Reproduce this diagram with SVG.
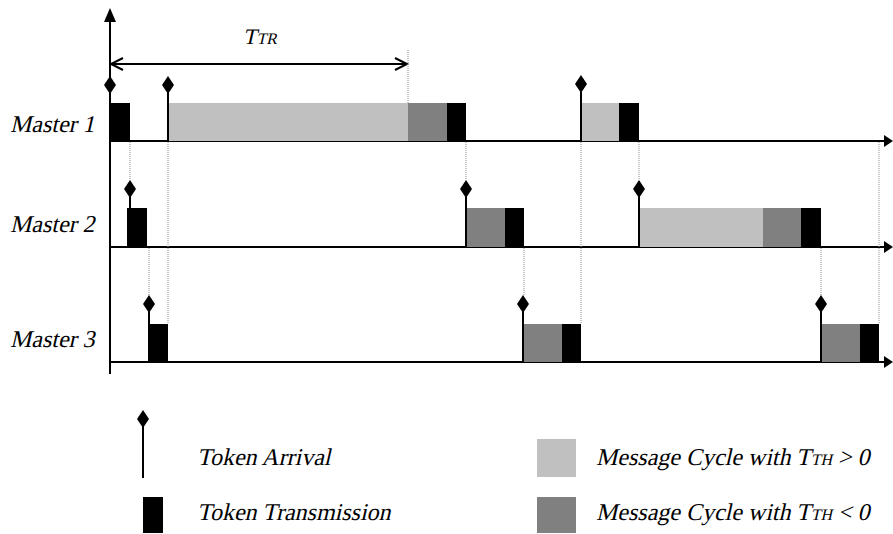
<svg xmlns="http://www.w3.org/2000/svg" xmlns:xlink="http://www.w3.org/1999/xlink" width="893" height="534" viewBox="0 0 893 534">
<style>
.lbl{font-family:'Liberation Serif','Times New Roman',serif;font-style:normal;font-size:24px;fill:#000}
.sub{font-size:16px}
.ax{stroke:#000;stroke-width:2;fill:none}
.stem{stroke:#000;stroke-width:2}
.dot{stroke:#8c8c8c;stroke-width:1;stroke-dasharray:1 1;fill:none}
.tok{fill:#000}
.lt{fill:#c0c0c0}
.dk{fill:#808080}
</style>
<defs>
<path id="dia" d="M0,-9 L6,0 L0,9 L-6,0 Z" fill="#000"/>
</defs>
<rect width="893" height="534" fill="#fff"/>

<g id="axes">
<line class="ax" x1="110" y1="20" x2="110" y2="374"/>
<polygon points="110,8 104,22 116,22" fill="#000"/>
<line class="ax" x1="110" y1="141" x2="886" y2="141"/>
<polygon points="884,135 893,141 884,147" fill="#000"/>
<line class="ax" x1="110" y1="247" x2="886" y2="247"/>
<polygon points="884,241 893,247 884,253" fill="#000"/>
<line class="ax" x1="110" y1="362" x2="886" y2="362"/>
<polygon points="884,356 893,362 884,368" fill="#000"/>
</g>

<g id="ttr">
<line class="ax" x1="111" y1="64" x2="407" y2="64"/>
<polyline class="ax" points="123,58 111,64 123,70"/>
<polyline class="ax" points="395,58 407,64 395,70"/>
<text class="lbl" transform="translate(243,44) skewX(-13)" x="0" y="0" style="font-size:22px">T<tspan style="font-size:16px">TR</tspan></text>
</g>

<g id="connectors">
<line class="dot" x1="408" y1="50" x2="408" y2="103"/>
<line class="dot" x1="130" y1="142" x2="130" y2="180"/>
<line class="dot" x1="149" y1="248" x2="149" y2="295"/>
<line class="dot" x1="168" y1="142" x2="168" y2="324"/>
<line class="dot" x1="466" y1="142" x2="466" y2="180"/>
<line class="dot" x1="524" y1="248" x2="524" y2="295"/>
<line class="dot" x1="581" y1="142" x2="581" y2="324"/>
<line class="dot" x1="639" y1="142" x2="639" y2="180"/>
<line class="dot" x1="821" y1="248" x2="821" y2="295"/>
<line class="dot" x1="879" y1="142" x2="879" y2="324"/>
</g>

<g id="master1">
<text class="lbl" transform="translate(10,132) skewX(-13)" x="0" y="0">Master 1</text>
<rect class="tok" x="110" y="103" width="20" height="38"/>
<rect class="lt" x="168" y="103" width="240" height="38"/>
<rect class="dk" x="408" y="103" width="39" height="38"/>
<rect class="tok" x="447" y="103" width="19" height="38"/>
<rect class="lt" x="581" y="103" width="38" height="38"/>
<rect class="tok" x="619" y="103" width="20" height="38"/>
<line class="stem" x1="168" y1="92" x2="168" y2="141"/>
<line class="stem" x1="581" y1="92" x2="581" y2="141"/>
<use xlink:href="#dia" x="110" y="85"/>
<use xlink:href="#dia" x="168" y="85"/>
<use xlink:href="#dia" x="581" y="84"/>
</g>

<g id="master2">
<text class="lbl" transform="translate(10,232) skewX(-13)" x="0" y="0">Master 2</text>
<rect class="tok" x="127" y="208" width="20" height="39"/>
<rect class="dk" x="466" y="208" width="39" height="39"/>
<rect class="tok" x="505" y="208" width="19" height="39"/>
<rect class="lt" x="639" y="208" width="124" height="39"/>
<rect class="dk" x="763" y="208" width="38" height="39"/>
<rect class="tok" x="801" y="208" width="20" height="39"/>
<line class="stem" x1="130" y1="196" x2="130" y2="208"/>
<line class="stem" x1="466" y1="196" x2="466" y2="247"/>
<line class="stem" x1="639" y1="196" x2="639" y2="247"/>
<use xlink:href="#dia" x="130" y="189"/>
<use xlink:href="#dia" x="466" y="189"/>
<use xlink:href="#dia" x="639" y="189"/>
</g>

<g id="master3">
<text class="lbl" transform="translate(10,347) skewX(-13)" x="0" y="0">Master 3</text>
<rect class="tok" x="148" y="324" width="20" height="38"/>
<rect class="dk" x="523" y="324" width="39" height="38"/>
<rect class="tok" x="562" y="324" width="19" height="38"/>
<rect class="dk" x="821" y="324" width="39" height="38"/>
<rect class="tok" x="860" y="324" width="19" height="38"/>
<line class="stem" x1="149" y1="311" x2="149" y2="324"/>
<line class="stem" x1="523" y1="311" x2="523" y2="362"/>
<line class="stem" x1="821" y1="311" x2="821" y2="362"/>
<use xlink:href="#dia" x="149" y="304"/>
<use xlink:href="#dia" x="523" y="304"/>
<use xlink:href="#dia" x="821" y="304"/>
</g>

<g id="legend">
<line class="stem" x1="143" y1="425" x2="143" y2="478"/>
<use xlink:href="#dia" x="143" y="419"/>
<text class="lbl" transform="translate(197,465) skewX(-13)" x="0" y="0">Token Arrival</text>
<rect class="tok" x="143" y="497" width="20" height="36"/>
<text class="lbl" transform="translate(197,520) skewX(-13)" x="0" y="0">Token Transmission</text>
<rect class="lt" x="537" y="439" width="39" height="38"/>
<text class="lbl" transform="translate(596,465) skewX(-13)" x="0" y="0">Message Cycle with T<tspan class="sub">TH</tspan> &gt; 0</text>
<rect class="dk" x="537" y="497" width="39" height="36"/>
<text class="lbl" transform="translate(596,520) skewX(-13)" x="0" y="0">Message Cycle with T<tspan class="sub">TH</tspan> &lt; 0</text>
</g>
</svg>
